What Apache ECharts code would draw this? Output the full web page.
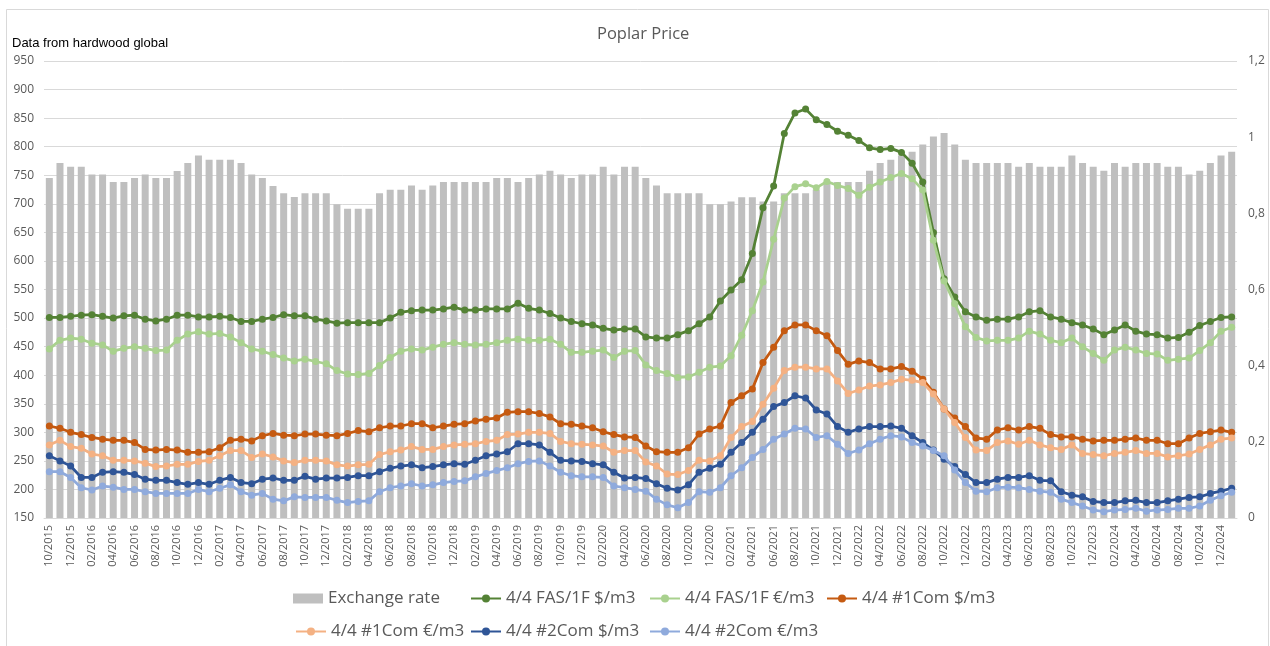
<!DOCTYPE html>
<html>
<head>
<meta charset="utf-8">
<script src="https://cdn.jsdelivr.net/npm/echarts@6/dist/echarts.min.js"></script>
<style>
html,body{margin:0;padding:0;background:#fff;}
#chart{width:1270px;height:646px;}
</style>
</head>
<body>
<div id="chart"></div>
<script>
const months = [
"10/2015","11/2015","12/2015","01/2016","02/2016","03/2016","04/2016","05/2016","06/2016","07/2016","08/2016","09/2016",
"10/2016","11/2016","12/2016","01/2017","02/2017","03/2017","04/2017","05/2017","06/2017","07/2017","08/2017","09/2017",
"10/2017","11/2017","12/2017","01/2018","02/2018","03/2018","04/2018","05/2018","06/2018","07/2018","08/2018","09/2018",
"10/2018","11/2018","12/2018","01/2019","02/2019","03/2019","04/2019","05/2019","06/2019","07/2019","08/2019","09/2019",
"10/2019","11/2019","12/2019","01/2020","02/2020","03/2020","04/2020","05/2020","06/2020","07/2020","08/2020","09/2020",
"10/2020","11/2020","12/2020","01/2021","02/2021","03/2021","04/2021","05/2021","06/2021","07/2021","08/2021","09/2021",
"10/2021","11/2021","12/2021","01/2022","02/2022","03/2022","04/2022","05/2022","06/2022","07/2022","08/2022","09/2022",
"10/2022","11/2022","12/2022","01/2023","02/2023","03/2023","04/2023","05/2023","06/2023","07/2023","08/2023","09/2023",
"10/2023","11/2023","12/2023","01/2024","02/2024","03/2024","04/2024","05/2024","06/2024","07/2024","08/2024","09/2024",
"10/2024","11/2024","12/2024","01/2025"
];

const exchangeRate = [
0.893,0.932,0.922,0.922,0.902,0.902,0.882,0.882,0.893,0.902,0.893,0.893,
0.911,0.932,0.952,0.941,0.941,0.941,0.932,0.902,0.893,0.872,0.853,0.843,
0.853,0.853,0.853,0.824,0.812,0.812,0.812,0.853,0.862,0.862,0.873,0.862,
0.873,0.882,0.882,0.882,0.882,0.882,0.893,0.893,0.882,0.893,0.902,0.912,
0.902,0.893,0.902,0.902,0.922,0.902,0.922,0.922,0.893,0.873,0.853,0.853,
0.853,0.853,0.824,0.824,0.831,0.842,0.842,0.831,0.831,0.853,0.853,0.853,
0.862,0.882,0.882,0.882,0.882,0.912,0.932,0.941,0.952,0.962,0.981,1.002,
1.011,0.981,0.941,0.932,0.932,0.932,0.932,0.922,0.932,0.922,0.922,0.922,
0.952,0.932,0.922,0.912,0.932,0.922,0.932,0.932,0.932,0.922,0.922,0.902,
0.912,0.932,0.952,0.962
];

const fasUsd = [
501,501,503,505,506,503,500,504,505,498,495,498,
505,505,502,502,503,501,494,494,498,501,506,504,
504,498,495,491,492,492,492,492,500,510,513,514,
514,516,519,514,514,516,516,516,526,517,514,508,
500,494,490,488,482,479,481,481,467,465,465,471,
478,490,502,530,549,567,613,693,731,823,859,866,
847,839,827,820,811,798,795,797,790,771,738,650,
569,537,511,502,496,498,498,502,511,513,502,498,
492,488,481,471,479,488,477,472,471,465,466,475,
487,494,501,502
];

const fasEur = [
446,461,465,463,456,453,442,447,450,447,443,444,
461,472,476,472,473,467,457,446,442,436,430,425,
428,424,420,408,402,401,403,417,431,442,446,444,
449,454,457,454,453,454,457,461,463,461,461,463,
454,440,440,442,444,431,442,443,418,408,403,396,
397,405,414,416,434,470,513,563,638,710,730,735,
728,739,732,727,715,729,738,746,753,744,724,636,
565,525,485,466,460,461,461,465,477,472,461,457,
465,450,438,426,444,449,444,438,437,426,428,430,
443,457,477,484
];

const com1Usd = [
311,307,300,296,291,288,286,286,282,270,269,270,
269,265,265,266,273,286,288,285,294,298,295,294,
297,297,295,294,298,303,301,308,311,311,315,315,
308,311,314,315,320,323,325,335,336,336,333,327,
315,314,311,308,301,296,292,291,276,266,265,265,
273,297,306,311,352,364,376,422,449,478,488,488,
478,469,443,419,425,422,411,411,415,407,393,370,
341,325,310,290,288,304,308,304,310,307,296,292,
292,288,285,286,286,288,290,286,286,280,280,290,
298,301,304,300
];

const com1Eur = [
278,286,275,272,262,259,251,251,250,246,240,241,
244,244,249,251,259,268,268,256,262,257,250,247,
251,251,250,243,241,243,244,261,266,269,275,270,
270,275,278,279,280,284,286,296,297,300,300,298,
284,280,279,278,276,265,268,268,248,241,227,226,
233,251,250,259,291,310,319,349,377,408,414,414,
411,411,390,368,374,381,383,387,393,391,387,367,
341,317,291,269,268,282,285,279,286,278,273,270,
278,263,261,259,263,265,268,263,263,257,259,262,
270,278,288,290
];

const com2Usd = [
259,250,241,221,221,230,231,230,226,218,216,216,
212,209,212,209,216,221,212,210,218,220,216,216,
223,218,220,220,221,224,224,231,237,241,243,238,
240,243,245,244,251,259,262,266,280,280,278,265,
251,250,249,245,243,230,220,221,219,210,202,199,
208,230,237,244,265,282,300,323,345,352,364,360,
339,332,310,300,306,310,310,311,307,294,282,269,
253,240,226,212,212,218,221,221,224,216,215,196,
190,187,179,177,177,180,181,177,177,180,183,186,
187,193,197,202
];

const com2Eur = [
231,231,221,203,199,206,204,200,200,196,193,193,
193,193,200,196,202,208,196,190,193,183,180,187,
186,186,186,181,177,179,180,196,203,206,210,206,
208,212,214,215,222,228,233,238,245,249,250,241,
230,224,222,222,221,206,203,200,197,183,173,168,
177,196,195,203,224,238,256,270,288,297,307,306,
291,294,279,263,269,280,288,294,292,282,276,268,
259,234,212,197,196,203,204,203,200,197,195,183,
177,171,164,161,164,165,167,162,164,165,167,167,
171,181,189,195
];

const seriesNames = ["Exchange rate","4/4 FAS/1F $/m3","4/4 FAS/1F €/m3","4/4 #1Com $/m3","4/4 #1Com €/m3","4/4 #2Com $/m3","4/4 #2Com €/m3"];
const lineColors = ["#548235","#a9d18e","#c55a11","#f4b183","#2f5597","#8faadc"];
const lineData = [fasUsd, fasEur, com1Usd, com1Eur, com2Usd, com2Eur];

const FONT = "Open Sans";
const GRAY = "#595959";

const chart = echarts.init(document.getElementById('chart'), null, {renderer:'canvas'});

const lineSeries = lineData.map((d, i) => ({
  name: seriesNames[i + 1],
  type: 'line',
  yAxisIndex: 0,
  data: d,
  symbol: 'circle',
  symbolSize: 7,
  showSymbol: true,
  lineStyle: {width: 2.75, color: lineColors[i]},
  itemStyle: {color: lineColors[i]},
  z: 3 + i
}));

// one legend per entry so the entries sit in equal columns as in the reference
const legendSlots = [
  [288, 585], [465, 585], [644, 585], [821, 585],
  [290, 618], [465, 618], [644, 618]
];
const legends = seriesNames.map((n, i) => ({
  data: [i === 0 ? {name: n, icon: 'rect'} : n],
  left: legendSlots[i][0], top: legendSlots[i][1],
  itemWidth: 30, itemHeight: 10, itemGap: 0,
  textStyle: {fontFamily: FONT, fontSize: 17, color: GRAY}
}));

chart.setOption({
  animation: false,
  backgroundColor: '#fff',
  title: {
    text: 'Poplar Price',
    left: 592,
    top: 21,
    textStyle: {fontFamily: FONT, fontSize: 16.5, fontWeight: 'normal', color: GRAY}
  },
  graphic: [
    {type: 'rect', shape: {x: 6.5, y: 9.5, width: 1262, height: 700}, style: {fill: 'none', stroke: '#d9d9d9', lineWidth: 1}, silent: true},
    {type: 'text', left: 12, top: 37, style: {text: 'Data from hardwood global', font: '13px "Liberation Sans", Arial, sans-serif', fill: '#000'}}
  ],
  legend: legends,
  grid: {left: 44, right: 33, top: 61, bottom: 128, containLabel: false},
  xAxis: {
    type: 'category',
    data: months,
    boundaryGap: true,
    axisLine: {show: true, lineStyle: {color: '#d9d9d9'}},
    axisTick: {show: false},
    axisLabel: {interval: 1, rotate: 90, margin: 7, fontFamily: FONT, fontSize: 11, color: GRAY}
  },
  yAxis: [
    {
      type: 'value', min: 150, max: 950, interval: 50,
      axisLine: {show: false}, axisTick: {show: false},
      splitLine: {show: true, lineStyle: {color: '#d9d9d9', width: 1}},
      axisLabel: {margin: 10, fontFamily: FONT, fontSize: 12, color: GRAY}
    },
    {
      type: 'value', min: 0, max: 1.2, interval: 0.2, position: 'right',
      axisLine: {show: false}, axisTick: {show: false},
      splitLine: {show: false},
      axisLabel: {margin: 11, fontFamily: FONT, fontSize: 12, color: GRAY,
        formatter: v => (Math.round(v * 10) / 10).toString().replace('.', ',')}
    }
  ],
  series: [
    {
      name: seriesNames[0],
      type: 'bar',
      yAxisIndex: 1,
      data: exchangeRate,
      barWidth: 7,
      itemStyle: {color: '#bfbfbf'},
      z: 2
    }
  ].concat(lineSeries)
});
</script>
</body>
</html>
